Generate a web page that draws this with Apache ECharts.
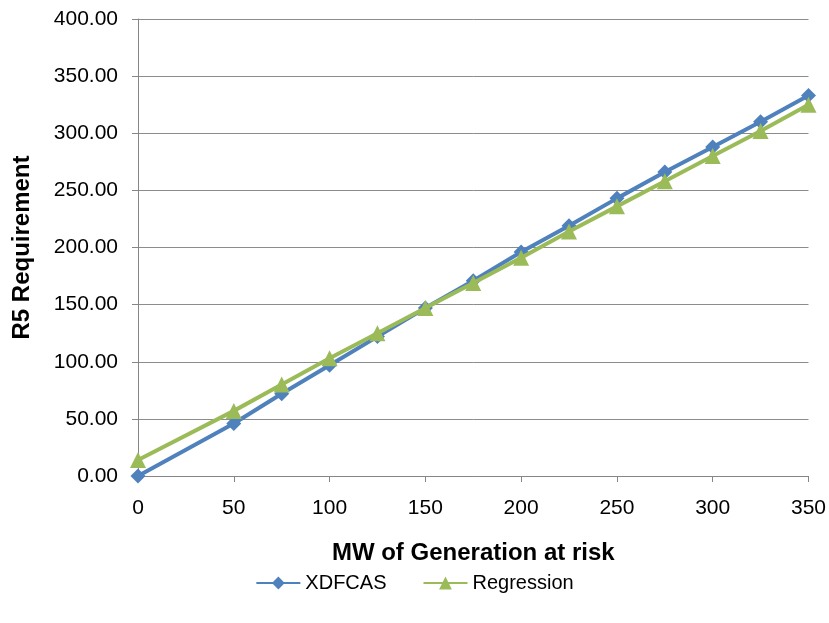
<!DOCTYPE html>
<html>
<head>
<meta charset="utf-8">
<script src="https://cdn.jsdelivr.net/npm/echarts@6/dist/echarts.min.js"></script>
<style>html,body{margin:0;padding:0;background:#fff;}#c{width:829px;height:623px;}</style>
</head>
<body>
<div id="c"></div>
<script>
const mwValues = [0, 50, 75, 100, 125, 150, 175, 200, 225, 250, 275, 300, 325, 350];
const xdfcas = [0, 46, 72, 97, 122, 147, 171, 196, 219, 243, 266, 288, 310, 333];
const regression = [14, 57, 80, 103, 125, 147, 169, 191, 214, 236, 258, 280, 302, 325];
const seriesNames = ['XDFCAS', 'Regression'];
const xTitle = 'MW of Generation at risk';
const yTitle = 'R5 Requirement';

const FONT = '"Liberation Sans", Arial, sans-serif';
const pair = (ys) => mwValues.map((x, i) => [x, ys[i]]);

const chart = echarts.init(document.getElementById('c'), null, {renderer: 'canvas'});
chart.setOption({
  animation: false,
  backgroundColor: '#ffffff',
  grid: {left: 138, right: 19, top: 19, bottom: 147, containLabel: false},
  legend: {
    bottom: 25, left: 'center',
    itemWidth: 44, itemHeight: 16, itemGap: 36,
    textStyle: {fontFamily: FONT, fontSize: 20, color: '#000'},
    data: seriesNames
  },
  xAxis: {
    type: 'value', min: 0, max: 350, interval: 50,
    name: xTitle, nameLocation: 'middle', nameGap: 65,
    nameTextStyle: {fontFamily: FONT, fontSize: 24, fontWeight: 'bold', color: '#000'},
    axisLine: {show: true, lineStyle: {color: '#868686', width: 1}},
    axisTick: {show: true, inside: false, length: 6, lineStyle: {color: '#868686'}},
    axisLabel: {fontFamily: FONT, fontSize: 21, color: '#000', margin: 22},
    splitLine: {show: false}
  },
  yAxis: {
    type: 'value', min: 0, max: 400, interval: 50,
    name: yTitle, nameLocation: 'middle', nameGap: 104, nameRotate: 90,
    nameTextStyle: {fontFamily: FONT, fontSize: 24, fontWeight: 'bold', color: '#000'},
    axisLine: {show: true, lineStyle: {color: '#868686', width: 1}},
    axisTick: {show: true, inside: false, length: 6, lineStyle: {color: '#868686'}},
    axisLabel: {fontFamily: FONT, fontSize: 21, color: '#000', margin: 20,
      formatter: v => v.toFixed(2)},
    splitLine: {show: true, lineStyle: {color: '#8c8c8c', width: 1}}
  },
  series: [
    {
      name: seriesNames[0], type: 'line', data: pair(xdfcas),
      symbol: 'diamond', symbolSize: 15,
      lineStyle: {color: '#4F81BD', width: 4},
      itemStyle: {color: '#4F81BD'},
      z: 2
    },
    {
      name: seriesNames[1], type: 'line', data: pair(regression),
      symbol: 'triangle', symbolSize: 16,
      lineStyle: {color: '#9BBB59', width: 4},
      itemStyle: {color: '#9BBB59'},
      z: 3
    }
  ]
});
</script>
</body>
</html>
